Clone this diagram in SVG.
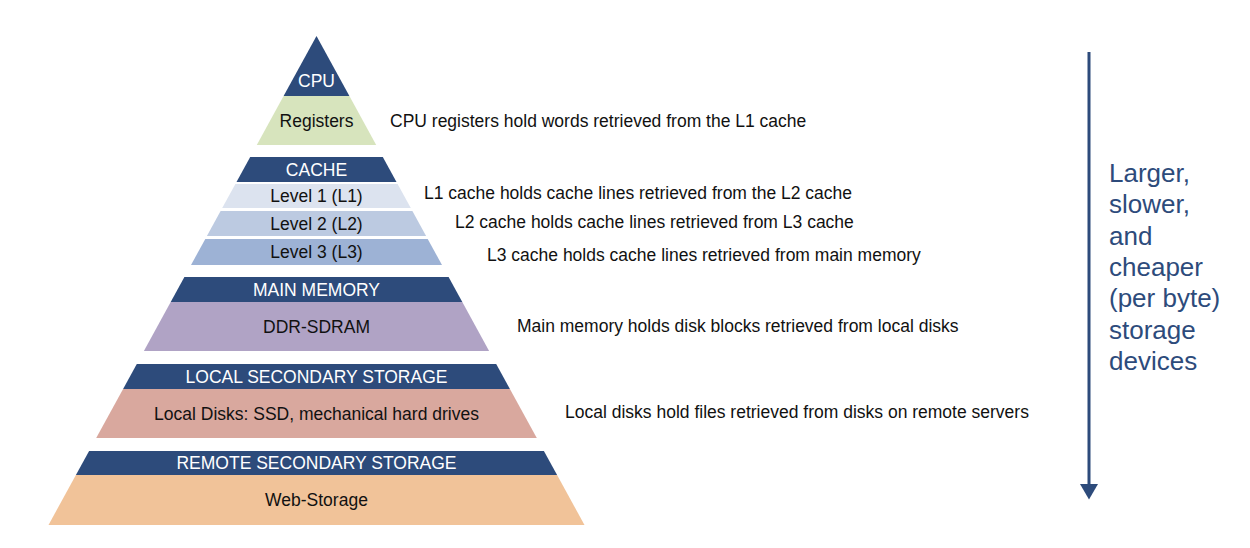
<svg xmlns="http://www.w3.org/2000/svg" width="1250" height="548" viewBox="0 0 1250 548">
<defs>
<style>
.dark{fill:#2D4B7B}
.t{font-family:"Liberation Sans",Arial,sans-serif;font-size:17.5px;text-anchor:middle;fill:#111}
.w{fill:#fff}
.lbl{font-family:"Liberation Sans",Arial,sans-serif;font-size:17.5px;fill:#111}
.side{font-family:"Liberation Sans",Arial,sans-serif;font-size:26px;fill:#2D4B7B}
</style>
<marker id="ah" markerWidth="6" markerHeight="6" refX="0" refY="3" orient="auto" markerUnits="strokeWidth">
<path d="M0,0 L5.2,3 L0,6 Z" fill="#2D4B7B"/>
</marker>
</defs>
<rect width="1250" height="548" fill="#fff"/>
<g id="cpu"><polygon class="dark" points="316.5,36 349.4,96 283.6,96"/><text class="t w" x="316.5" y="87">CPU</text></g>
<g id="registers"><polygon fill="#D7E4BD" points="283.6,96 349.4,96 376.2,145 256.8,145"/><text class="t" x="316.5" y="127">Registers</text></g>
<g id="cache"><polygon class="dark" points="250.2,157 382.8,157 396.5,182 236.5,182"/><text class="t w" x="316.5" y="176">CACHE</text></g>
<g id="l1"><polygon fill="#DCE3EF" points="235.4,184 397.6,184 410.8,208 222.2,208"/><text class="t" x="316.5" y="202">Level 1 (L1)</text></g>
<g id="l2"><polygon fill="#BCCAE1" points="220.6,211 412.4,211 426.1,236 206.9,236"/><text class="t" x="316.5" y="230">Level 2 (L2)</text></g>
<g id="l3"><polygon fill="#9DB2D5" points="205.3,239 427.7,239 442,265 191,265"/><text class="t" x="316.5" y="258">Level 3 (L3)</text></g>
<g id="mainmem"><polygon class="dark" points="184.4,277 448.6,277 462.3,302 170.7,302"/><text class="t w" x="316.5" y="296">MAIN MEMORY</text></g>
<g id="ddr"><polygon fill="#B0A3C5" points="170.7,302 462.3,302 489.1,351 143.9,351"/><text class="t" x="316.5" y="333">DDR-SDRAM</text></g>
<g id="localsec"><polygon class="dark" points="136.8,364 496.2,364 509.9,389 123.1,389"/><text class="t w" x="316.5" y="383">LOCAL SECONDARY STORAGE</text></g>
<g id="localdisks"><polygon fill="#D9A89E" points="123.1,389 509.9,389 536.8,438 96.2,438"/><text class="t" x="316.5" y="419.5">Local Disks: SSD, mechanical hard drives</text></g>
<g id="remotesec"><polygon class="dark" points="89.1,451 543.9,451 557.1,475 75.9,475"/><text class="t w" x="316.5" y="469">REMOTE SECONDARY STORAGE</text></g>
<g id="webstorage"><polygon fill="#F1C399" points="75.9,475 557.1,475 584.5,525 48.5,525"/><text class="t" x="316.5" y="506">Web-Storage</text></g>
<g id="labels">
<text class="lbl" x="390" y="127">CPU registers hold words retrieved from the L1 cache</text>
<text class="lbl" x="424" y="199">L1 cache holds cache lines retrieved from the L2 cache</text>
<text class="lbl" x="455" y="228">L2 cache holds cache lines retrieved from L3 cache</text>
<text class="lbl" x="487" y="261">L3 cache holds cache lines retrieved from main memory</text>
<text class="lbl" x="517" y="332">Main memory holds disk blocks retrieved from local disks</text>
<text class="lbl" x="565" y="418">Local disks hold files retrieved from disks on remote servers</text>
</g>
<g id="connectors">
<line x1="1089" y1="52" x2="1089" y2="484" stroke="#2D4B7B" stroke-width="3" marker-end="url(#ah)"/>
</g>
<g id="side-note">
<text class="side" x="1109" y="182">Larger,<tspan x="1109" dy="31.3">slower,</tspan><tspan x="1109" dy="31.3">and</tspan><tspan x="1109" dy="31.3">cheaper</tspan><tspan x="1109" dy="31.3">(per byte)</tspan><tspan x="1109" dy="31.3">storage</tspan><tspan x="1109" dy="31.3">devices</tspan></text>
</g>
</svg>
